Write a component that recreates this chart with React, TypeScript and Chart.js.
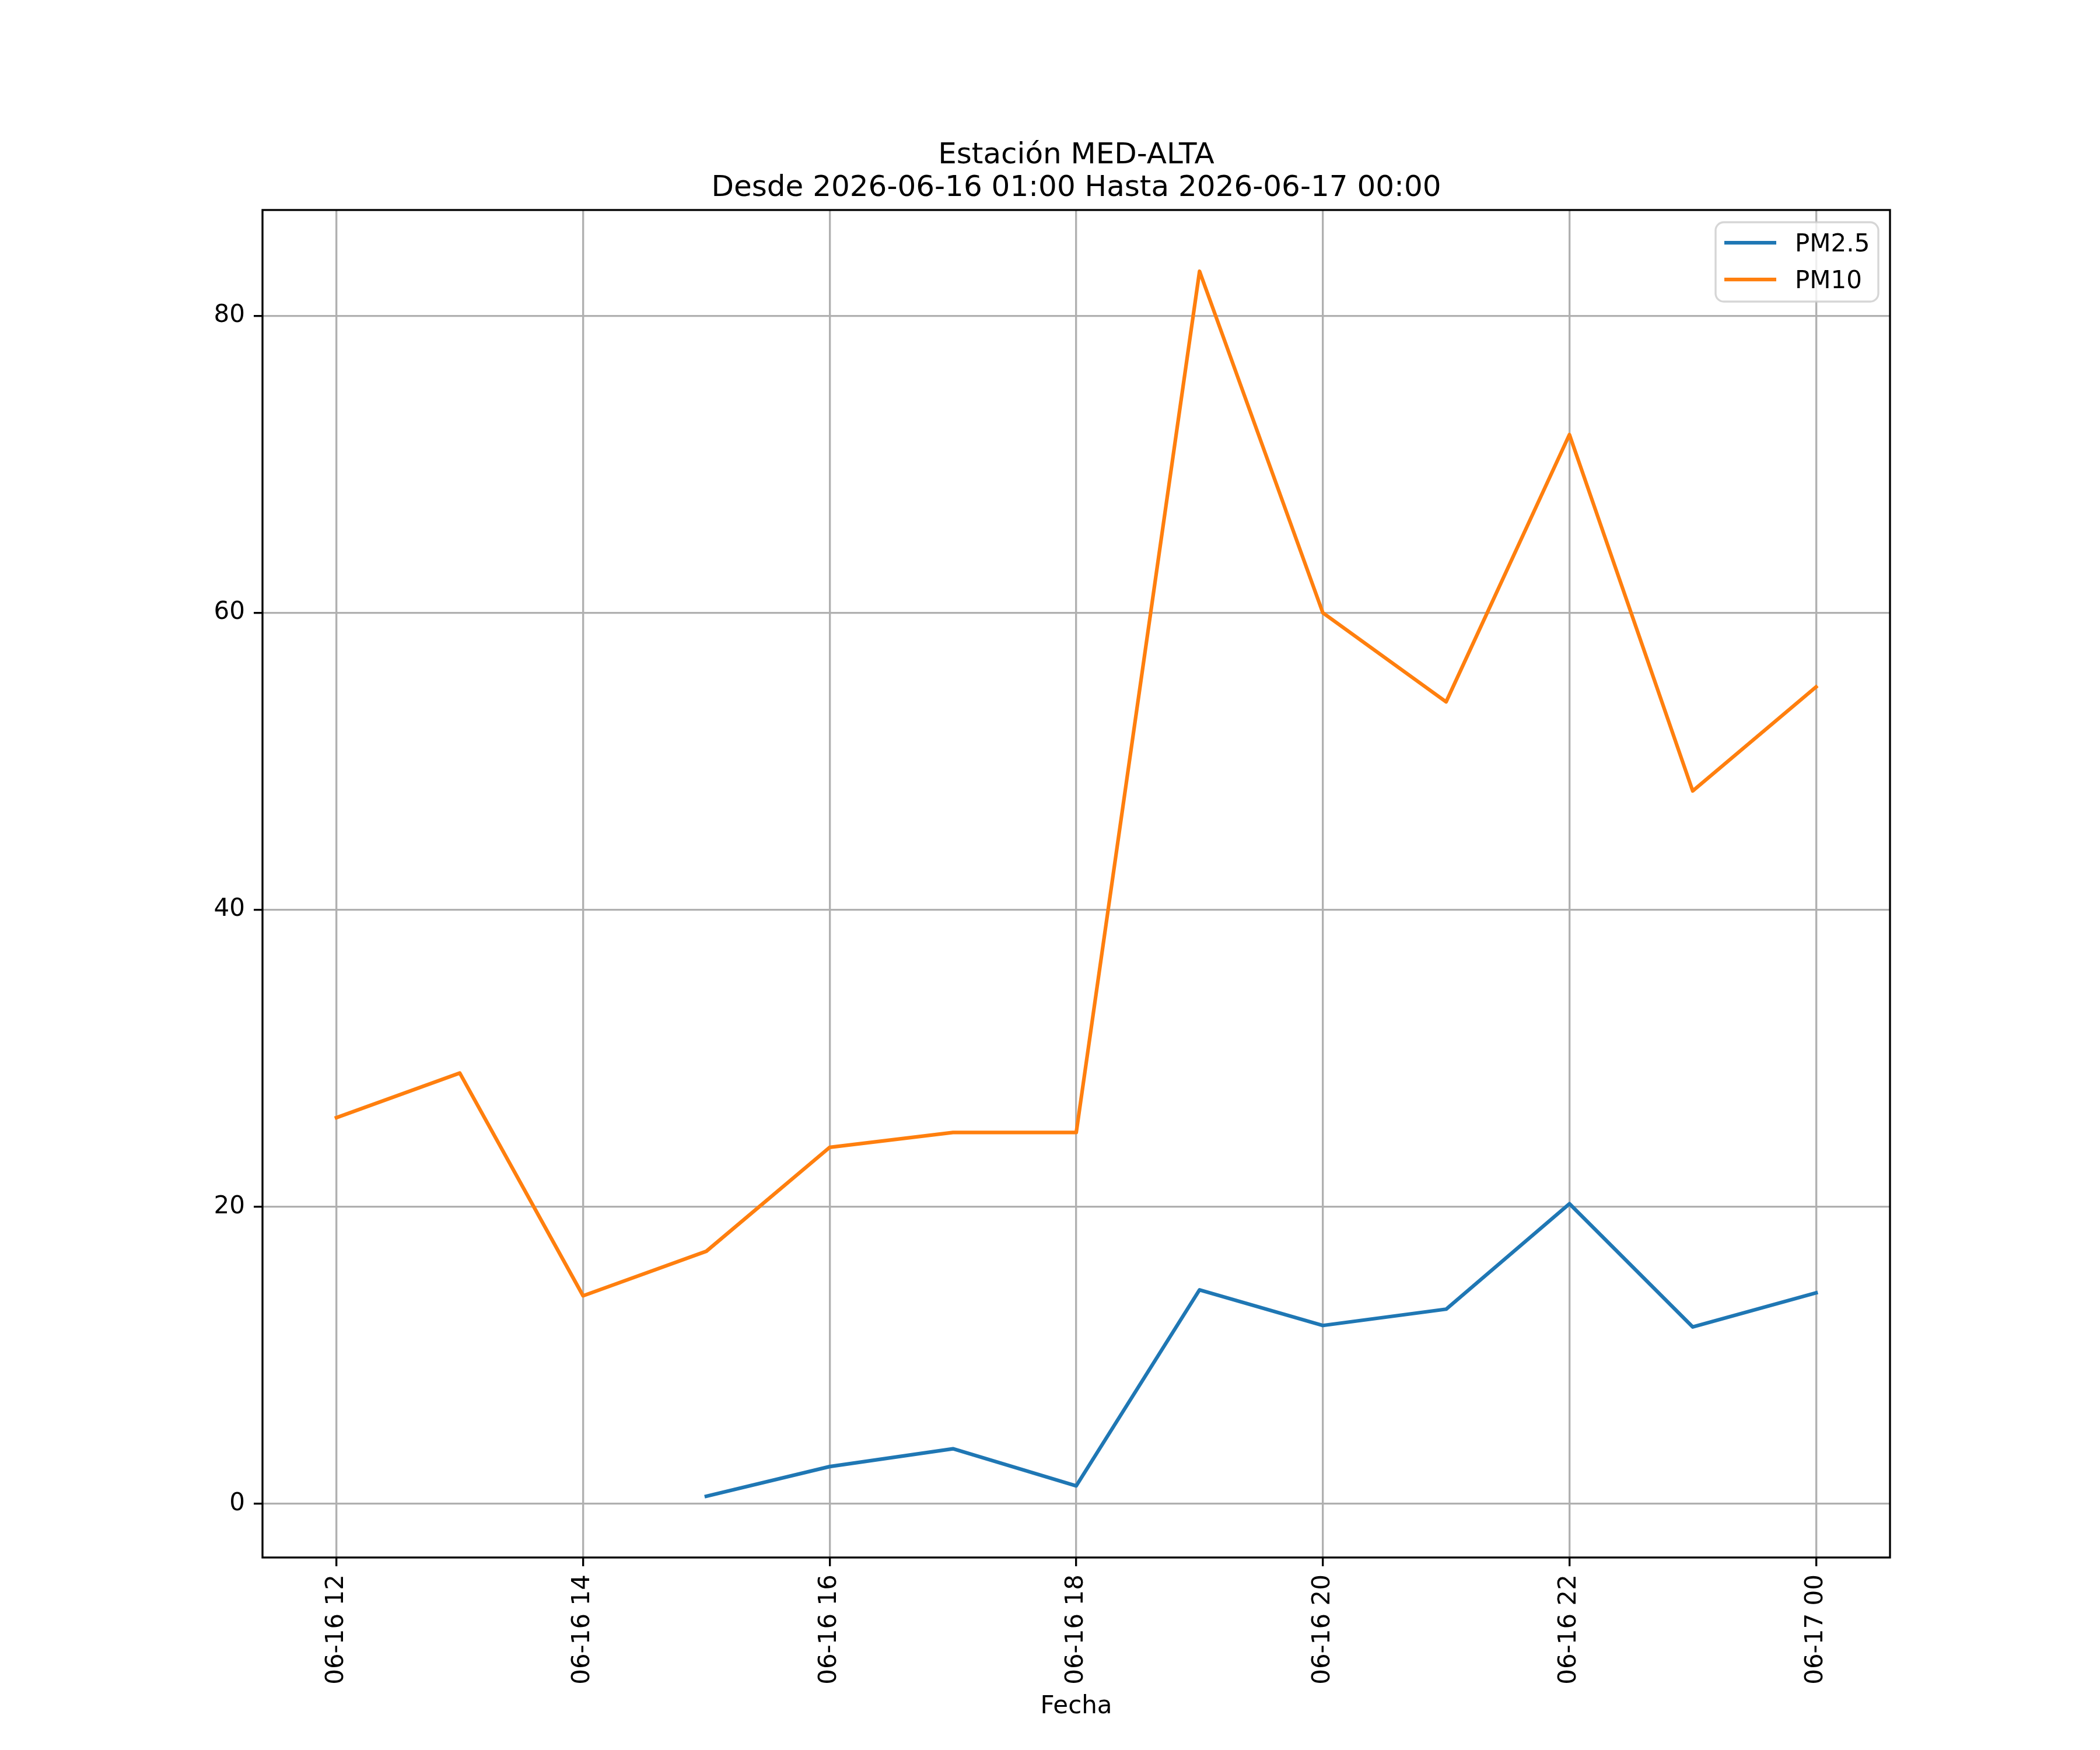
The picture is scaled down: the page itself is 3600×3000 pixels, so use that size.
import React, { useRef, useEffect } from 'react';
import { Chart, registerables } from 'chart.js';

Chart.register(...registerables);

// Datos (horas del 16-06, 24 = 17-06 00:00)
const hours = [12, 13, 14, 15, 16, 17, 18, 19, 20, 21, 22, 23, 24];
const pm25 = [null, null, null, 0.5, 2.5, 3.7, 1.2, 14.4, 12.0, 13.1, 20.2, 11.9, 14.2];
const pm10 = [26, 29, 14, 17, 24, 25, 25, 83, 60, 54, 72, 48, 55];

const xTickValues = [12, 14, 16, 18, 20, 22, 24];
const xTickLabels = ['06-16 12', '06-16 14', '06-16 16', '06-16 18', '06-16 20', '06-16 22', '06-17 00'];
const yTickValues = [0, 20, 40, 60, 80];

const titleLines = ['Estación MED-ALTA', 'Desde 2026-06-16 01:00 Hasta 2026-06-17 00:00'];
const seriesNames = ['PM2.5', 'PM10'];
const seriesColors = ['#1f77b4', '#ff7f0e'];

const FONT = 'DejaVu Sans, sans-serif';
const W = 3600;
const H = 3000;
const LW = 3.33; // 0.8pt a 300dpi

// márgenes estilo matplotlib (5%)
const allY = [...pm25, ...pm10].filter((v) => v !== null) as number[];
const yLo = Math.min(...allY);
const yHi = Math.max(...allY);
const yPad = (yHi - yLo) * 0.05;
const xPad = (hours[hours.length - 1] - hours[0]) * 0.05;

const App: React.FC = () => {
  const chartRef = useRef<HTMLCanvasElement>(null);
  const chartInstanceRef = useRef<Chart | null>(null);

  useEffect(() => {
    if (!chartRef.current) return;
    const ctx = chartRef.current.getContext('2d');
    if (!ctx) return;
    if (chartInstanceRef.current) chartInstanceRef.current.destroy();

    chartInstanceRef.current = new Chart(ctx, {
      type: 'line',
      data: {
        datasets: [
          {
            label: seriesNames[0],
            data: hours.map((h, i) => ({ x: h, y: pm25[i] })),
            borderColor: seriesColors[0],
            borderWidth: 6.25,
            pointRadius: 0,
            tension: 0,
            borderCapStyle: 'square',
            borderJoinStyle: 'round',
            spanGaps: false,
          },
          {
            label: seriesNames[1],
            data: hours.map((h, i) => ({ x: h, y: pm10[i] })),
            borderColor: seriesColors[1],
            borderWidth: 6.25,
            pointRadius: 0,
            tension: 0,
            borderCapStyle: 'square',
            borderJoinStyle: 'round',
          },
        ] as any,
      },
      options: {
        responsive: false,
        animation: false,
        devicePixelRatio: 1,
        layout: { padding: { top: 360, right: 360, left: 0, bottom: 0 } },
        plugins: {
          legend: { display: false },
          title: { display: false },
          tooltip: { enabled: false },
        },
        scales: {
          x: {
            type: 'linear',
            min: hours[0] - xPad,
            max: hours[hours.length - 1] + xPad,
            afterFit: (scale: any) => { scale.height = 330; },
            afterBuildTicks: (scale: any) => {
              scale.ticks = xTickValues.map((v) => ({ value: v }));
            },
            ticks: {
              autoSkip: false,
              minRotation: 90,
              maxRotation: 90,
              padding: 14,
              color: '#000',
              font: { family: FONT, size: 42 },
              callback: (value: any) => xTickLabels[xTickValues.indexOf(Number(value))] ?? '',
            },
            grid: {
              color: '#b0b0b0',
              lineWidth: LW,
              tickColor: '#000',
              tickWidth: LW,
              tickLength: 15,
            },
            border: { display: false },
          },
          y: {
            type: 'linear',
            min: yLo - yPad,
            max: yHi + yPad,
            afterFit: (scale: any) => { scale.width = 450; },
            afterBuildTicks: (scale: any) => {
              scale.ticks = yTickValues.map((v) => ({ value: v }));
            },
            ticks: {
              padding: 15,
              color: '#000',
              font: { family: FONT, size: 42 },
              callback: (value: any) => String(value),
            },
            grid: {
              color: '#b0b0b0',
              lineWidth: LW,
              tickColor: '#000',
              tickWidth: LW,
              tickLength: 15,
            },
            border: { display: false },
          },
        },
      },
      plugins: [
        {
          id: 'mplDecor',
          afterDatasetsDraw: (chart: any) => {
            const c = chart.ctx;
            const a = chart.chartArea;
            c.save();
            // marco de los ejes
            c.strokeStyle = '#000';
            c.lineWidth = LW;
            c.strokeRect(a.left, a.top, a.right - a.left, a.bottom - a.top);

            // títulos
            c.fillStyle = '#000';
            c.textAlign = 'center';
            c.textBaseline = 'alphabetic';
            const cx = (a.left + a.right) / 2;
            c.font = `50px ${FONT}`;
            c.fillText(titleLines[0], cx, 280);
            c.fillText(titleLines[1], cx, 336);

            // etiqueta eje x
            c.font = `42px ${FONT}`;
            c.fillText('Fecha', cx, 2937);

            // leyenda
            const lx = 2941, ly = 381, lw = 279, lh = 136, r = 14;
            c.beginPath();
            c.moveTo(lx + r, ly);
            c.arcTo(lx + lw, ly, lx + lw, ly + lh, r);
            c.arcTo(lx + lw, ly + lh, lx, ly + lh, r);
            c.arcTo(lx, ly + lh, lx, ly, r);
            c.arcTo(lx, ly, lx + lw, ly, r);
            c.closePath();
            c.fillStyle = 'rgba(255,255,255,0.8)';
            c.fill();
            c.strokeStyle = 'rgba(204,204,204,0.8)';
            c.lineWidth = LW;
            c.stroke();

            const rowY = [416, 479];
            const baseY = [431, 494];
            seriesNames.forEach((name, i) => {
              c.strokeStyle = seriesColors[i];
              c.lineWidth = 6.25;
              c.lineCap = 'butt';
              c.beginPath();
              c.moveTo(2956, rowY[i]);
              c.lineTo(3045, rowY[i]);
              c.stroke();
              c.fillStyle = '#000';
              c.textAlign = 'left';
              c.font = `42px ${FONT}`;
              c.fillText(name, 3077, baseY[i]);
            });
            c.restore();
          },
        },
      ],
    });

    return () => {
      if (chartInstanceRef.current) {
        chartInstanceRef.current.destroy();
        chartInstanceRef.current = null;
      }
    };
  }, []);

  return (
    <div style={{ position: 'absolute', left: 0, top: 0, width: W, height: H, background: '#fff' }}>
      <canvas ref={chartRef} width={W} height={H} style={{ width: W, height: H }} />
    </div>
  );
};

export default App;
